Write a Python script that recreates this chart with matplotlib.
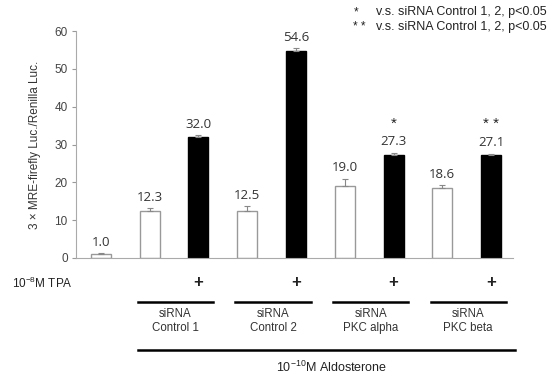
import matplotlib.pyplot as plt
import matplotlib.transforms as mtransforms
import numpy as np

plt.rcParams['font.family'] = ['Liberation Sans', 'DejaVu Sans']
plt.rcParams['mathtext.fontset'] = 'custom'
plt.rcParams['mathtext.rm'] = 'Liberation Sans'

values = [1.0, 12.3, 32.0, 12.5, 54.6, 19.0, 27.3, 18.6, 27.1]
errors = [0.2, 0.8, 0.4, 1.2, 0.8, 2.0, 0.5, 0.6, 0.5]
tpa = [False, False, True, False, True, False, True, False, True]
stars = ['', '', '', '', '', '', '*', '', '* *']
groups = ['siRNA\nControl 1', 'siRNA\nControl 2', 'siRNA\nPKC alpha', 'siRNA\nPKC beta']

x = np.arange(len(values))
colors = ['black' if t else 'white' for t in tpa]
edges = ['black' if t else '#999999' for t in tpa]

fig = plt.figure(figsize=(5.48, 3.74), dpi=100)
ax = fig.add_axes([76 / 548, 1 - 258 / 374, (513 - 76) / 548, (258 - 31) / 374])

ax.bar(x, values, width=0.41, color=colors, edgecolor=edges, linewidth=1.0, zorder=2)
ax.errorbar(x, values, yerr=[np.zeros(len(values)), errors], fmt='none',
            ecolor='#888888', elinewidth=0.8, capsize=2, capthick=0.8, zorder=3)

for xi, v, e in zip(x, values, errors):
    ax.text(xi, v + e + 1.2, f'{v:.1f}', ha='center', va='bottom', fontsize=9.5,
            color='#333333', family=['Open Sans', 'DejaVu Sans'])
for xi, s in zip(x, stars):
    if s:
        ax.text(xi, 35.5, s, ha='center', va='center', fontsize=11, color='#222222')

ax.set_xlim(-0.51, 8.45)
ax.set_ylim(0, 60)
ax.set_yticks(range(0, 61, 10))
ax.tick_params(axis='y', colors='#999999', labelcolor='#444444', labelsize=8.5,
               length=3, width=0.8, pad=3)
ax.tick_params(axis='x', bottom=False, labelbottom=False)
ax.spines['top'].set_visible(False)
ax.spines['right'].set_visible(False)
ax.spines['left'].set_color('#aaaaaa')
ax.spines['bottom'].set_color('#aaaaaa')
ax.set_ylabel('3 × MRE-firefly Luc./Renilla Luc.', fontsize=8.5, color='#333333', labelpad=10)

# annotation rows under the axis
trans = mtransforms.blended_transform_factory(ax.transData, fig.transFigure)
fig.text(12 / 548, 1 - 283 / 374, '10$^{\\mathregular{-8}}$M TPA', fontsize=8.5, va='center', color='#222222')
for xi, t in zip(x, tpa):
    if t:
        ax.text(xi, 1 - 283 / 374, '+', transform=trans, ha='center', va='center',
                fontsize=12, fontweight='bold', color='#222222')

for gi, name in enumerate(groups):
    x0 = 1 + 2 * gi - 0.24
    x1 = 2 + 2 * gi + 0.3
    ax.plot([x0, x1], [1 - 302 / 374] * 2, transform=trans, color='black', lw=1.8, clip_on=False)
    ax.text((x0 + x1) / 2, 1 - 321 / 374, name, transform=trans, ha='center', va='center',
            fontsize=8.3, color='#333333', linespacing=1.25)

ax.plot([0.76, 8.5], [1 - 350 / 374] * 2, transform=trans, color='black', lw=1.8, clip_on=False)
ax.text(4.74, 1 - 367 / 374, '10$^{\\mathregular{-10}}$M Aldosterone', transform=trans, ha='center',
        va='center', fontsize=9, color='#222222')

# significance legend
fig.text(356 / 548, 1 - 12 / 374, '*', fontsize=8.5, va='center', ha='center', color='#222222')
fig.text(376 / 548, 1 - 12 / 374, 'v.s. siRNA Control 1, 2, p<0.05', fontsize=9, va='center', color='#222222')
fig.text(359 / 548, 1 - 27 / 374, '* *', fontsize=8.5, va='center', ha='center', color='#222222')
fig.text(376 / 548, 1 - 27 / 374, 'v.s. siRNA Control 1, 2, p<0.05', fontsize=9, va='center', color='#222222')

fig.savefig('out.png', dpi=100)
